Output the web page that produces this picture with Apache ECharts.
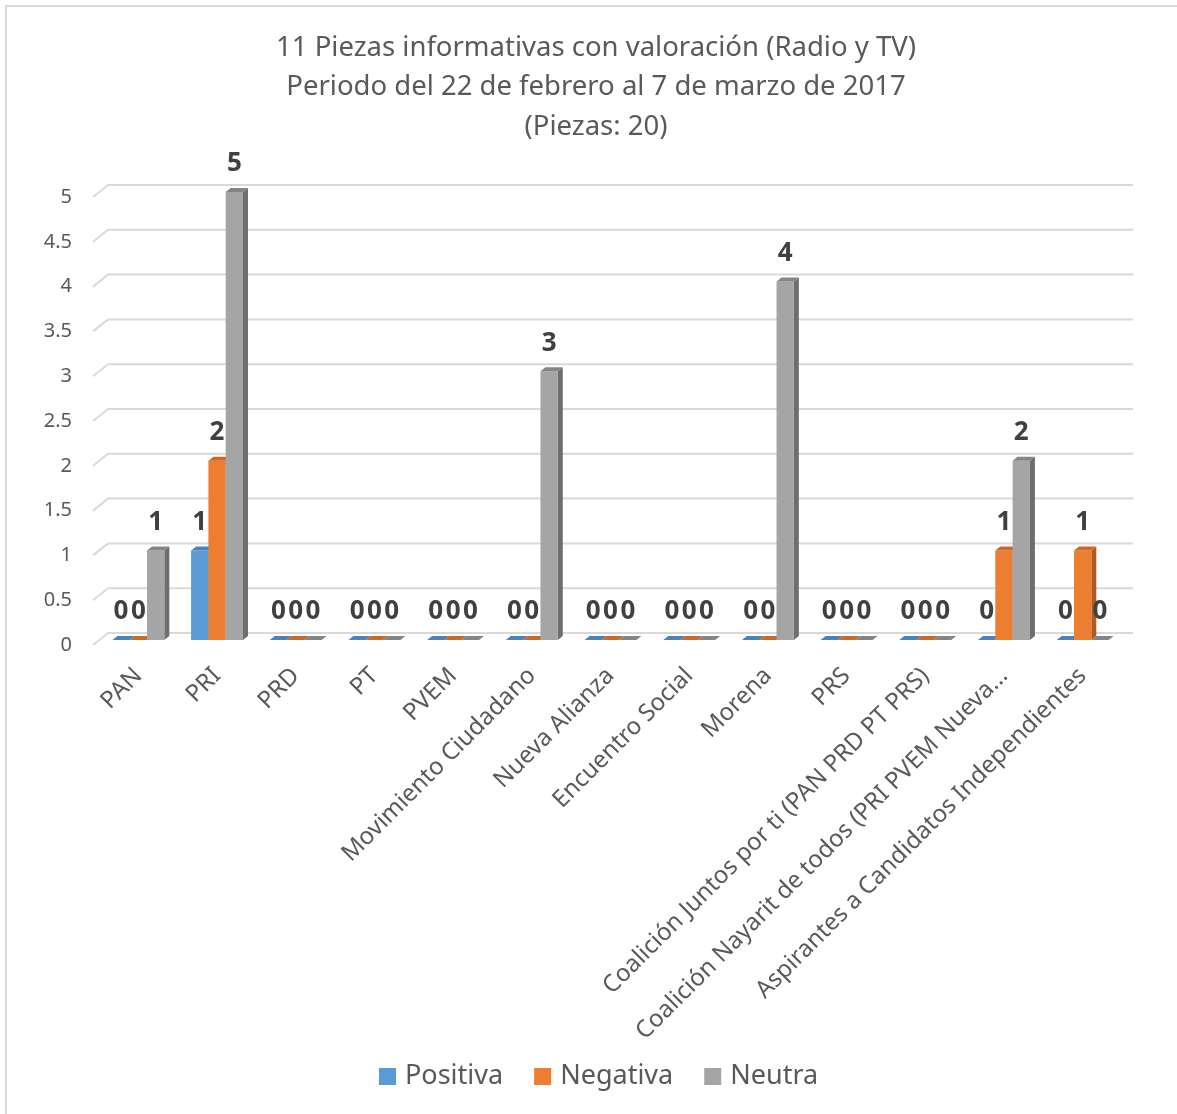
<!DOCTYPE html>
<html>
<head>
<meta charset="utf-8">
<script src="https://cdn.jsdelivr.net/npm/echarts@6/dist/echarts.min.js"></script>
<style>
html,body{margin:0;padding:0;background:#fff;}
#frame{position:absolute;left:5px;top:5px;width:1200px;height:1130px;border-left:2px solid #d9d9d9;border-top:2px solid #d9d9d9;}
#chart{position:absolute;left:0;top:0;width:1177px;height:1114px;}
</style>
</head>
<body>
<div id="frame"></div>
<div id="chart"></div>
<script>
const categories = ['PAN','PRI','PRD','PT','PVEM','Movimiento Ciudadano','Nueva Alianza','Encuentro Social','Morena','PRS','Coalición Juntos por ti (PAN PRD PT PRS)','Coalición Nayarit de todos (PRI PVEM Nueva...','Aspirantes a Candidatos Independientes'];
const seriesNames = ['Positiva','Negativa','Neutra'];
const positiva = [0,1,0,0,0,0,0,0,0,0,0,0,0];
const negativa = [0,2,0,0,0,0,0,0,0,0,0,1,1];
const neutra   = [1,5,0,0,0,3,0,0,4,0,0,2,0];
const yTicks = [0,0.5,1,1.5,2,2.5,3,3.5,4,4.5,5];
const titleLines = ['11 Piezas informativas con valoración (Radio y TV)','Periodo del 22 de febrero al 7 de marzo de 2017','(Piezas: 20)'];

const palette = [
  {front:'#5B9BD5', side:'#41719C', top:'#4A82B9'},
  {front:'#ED7D31', side:'#AE5A21', top:'#C96A28'},
  {front:'#A5A5A5', side:'#6E6E6E', top:'#858585'}
];
const FONT = '"Noto Sans", "Open Sans", sans-serif';

function barRenderer(k){
  return function(params, api){
    const cat = api.value(0), val = api.value(1);
    const base = api.coord([cat, 0]);
    const top = api.coord([cat, val]);
    const band = api.size([1, 0])[0];
    const bw = band * 0.22;
    const x0 = base[0] + (k - 1.5) * bw, x1 = x0 + bw;
    const d = 5, dy = 4;
    const c = palette[k];
    return {
      type:'group',
      children:[
        {type:'polygon', shape:{points:[[x1,top[1]],[x1+d,top[1]-dy],[x1+d,base[1]-dy],[x1,base[1]]]}, style:{fill:c.side}},
        {type:'rect', shape:{x:x0, y:top[1], width:bw, height:base[1]-top[1]}, style:{fill:c.front}},
        {type:'polygon', shape:{points:[[x0,top[1]],[x1,top[1]],[x1+d,top[1]-dy],[x0+d,top[1]-dy]]}, style:{fill:c.top}},
        {type:'text', style:{x:(x0+x1)/2, y:top[1]-28, text:String(val), align:'center', verticalAlign:'middle', fill:'#404040', font:'bold 26px ' + FONT}}
      ]
    };
  };
}

function gridRenderer(params, api){
  const cs = params.coordSys;
  const y = api.coord([0, api.value(1)])[1];
  return {
    type:'polyline',
    shape:{points:[[cs.x-6, y+5],[cs.x+9, y-7],[cs.x+cs.width+11, y-7]]},
    style:{stroke:'#d9d9d9', lineWidth:2, fill:null}
  };
}

const dataSets = [positiva, negativa, neutra];
const series = [{
  type:'custom', name:'grid', silent:true, z:1,
  renderItem: gridRenderer,
  data: yTicks.map(v => [0, v])
}];
dataSets.forEach((arr, k) => {
  series.push({
    type:'custom', name:seriesNames[k], z:2+k,
    itemStyle:{color:palette[k].front},
    renderItem: barRenderer(k),
    data: arr.map((v, i) => [i, v])
  });
});

const chart = echarts.init(document.getElementById('chart'));
chart.setOption({
  animation:false,
  backgroundColor:'transparent',
  title:{
    text: titleLines.join('\n'),
    left: 591, top: 23, textAlign:'center',
    textStyle:{fontFamily:FONT, fontSize:27.5, fontWeight:'normal', color:'#595959', lineHeight:39.5}
  },
  legend:{
    data: seriesNames,
    bottom: 19,
    left: 374,
    icon:'rect', itemWidth:17, itemHeight:17, itemGap:31,
    textStyle:{fontFamily:FONT, fontSize:27, color:'#595959', padding:[0,0,0,4]}
  },
  grid:{left:99, right:55, top:192, bottom:474},
  xAxis:{
    type:'category', data:categories,
    axisLine:{show:false}, axisTick:{show:false},
    axisLabel:{interval:0, rotate:45, margin:32, fontFamily:FONT, fontSize:24, color:'#595959'}
  },
  yAxis:{
    type:'value', min:0, max:5, interval:0.5,
    splitLine:{show:false}, axisLine:{show:false}, axisTick:{show:false},
    axisLabel:{margin:27, fontFamily:FONT, fontSize:20, color:'#595959', verticalAlign:'top', lineHeight:10}
  },
  series: series
});
</script>
</body>
</html>
